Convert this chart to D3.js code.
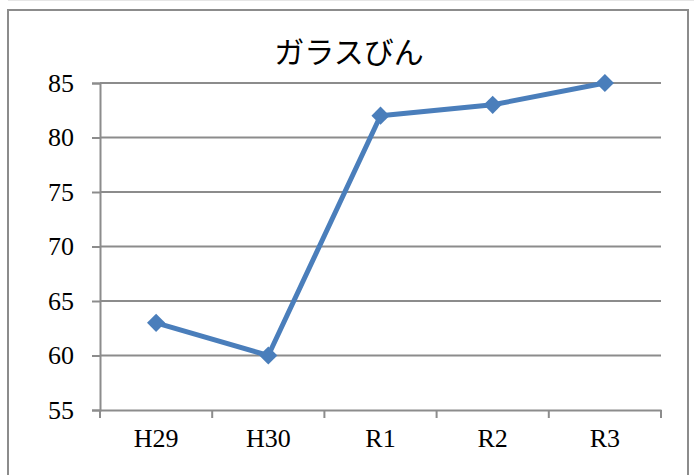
<!DOCTYPE html>
<html>
<head>
<meta charset="utf-8">
<script src="https://cdn.jsdelivr.net/npm/d3@7"></script>
<style>
  html, body { margin: 0; padding: 0; background: #fff; }
  svg { display: block; }
</style>
</head>
<body>
<svg id="chart" width="694" height="475"></svg>
<script>
// Yearly figures for glass bottles
const title = "ガラスびん";
const years = ["H29", "H30", "R1", "R2", "R3"];
const values = [63, 60, 82, 83, 85];
const yTicks = [55, 60, 65, 70, 75, 80, 85];

const svg = d3.select("#chart");
const W = 694, H = 475;
const plot = { left: 100, right: 661, top: 83, bottom: 410 };
const gray = "#8c8c8c";
const blue = "#4a7ebb";
const serif = "'Liberation Serif', 'Times New Roman', serif";

// faint outer line and chart frame
svg.append("line").attr("x1", 8).attr("x2", W).attr("y1", 0.5).attr("y2", 0.5)
  .attr("stroke", "#e6e6e6").attr("stroke-width", 1);
svg.append("rect").attr("x", 8).attr("y", 10).attr("width", 680).attr("height", 480)
  .attr("fill", "#fff").attr("stroke", gray).attr("stroke-width", 2);

svg.append("text").attr("x", 349).attr("y", 63).attr("text-anchor", "middle")
  .attr("font-family", "'Noto Sans CJK JP', sans-serif").attr("font-size", 30)
  .attr("fill", "#000").text(title);

const x = d3.scaleBand().domain(years).range([plot.left, plot.right]);
const y = d3.scaleLinear().domain([55, 85]).range([plot.bottom, plot.top]);

// horizontal gridlines
svg.append("g").selectAll("line").data(yTicks.slice(1)).join("line")
  .attr("x1", plot.left).attr("x2", plot.right)
  .attr("y1", d => y(d)).attr("y2", d => y(d))
  .attr("stroke", gray).attr("stroke-width", 2);

// y axis
const yAxis = svg.append("g").attr("transform", `translate(${plot.left},0)`)
  .call(d3.axisLeft(y).tickValues(yTicks).tickSize(8).tickPadding(18).tickFormat(d3.format("d")));
yAxis.select(".domain").attr("stroke", gray).attr("stroke-width", 2);
yAxis.selectAll(".tick line").attr("stroke", gray).attr("stroke-width", 2);
yAxis.selectAll("text").attr("font-family", serif).attr("font-size", 26)
  .attr("fill", "#000");

// x axis with ticks at band boundaries
const xAxis = svg.append("g").attr("transform", `translate(0,${plot.bottom})`)
  .call(d3.axisBottom(x).tickSize(0).tickPadding(19));
xAxis.select(".domain").attr("stroke", gray).attr("stroke-width", 2);
xAxis.selectAll("text").attr("font-family", serif).attr("font-size", 26)
  .attr("fill", "#000");
const bounds = years.map(d => x(d)).concat([x(years[years.length - 1]) + x.bandwidth()]);
svg.append("g").selectAll("line").data(bounds).join("line")
  .attr("x1", d => d).attr("x2", d => d)
  .attr("y1", plot.bottom).attr("y2", plot.bottom + 8)
  .attr("stroke", gray).attr("stroke-width", 2);

// series line
const cx = d => x(d) + x.bandwidth() / 2;
const line = d3.line().x((d, i) => cx(years[i])).y(d => y(d));
svg.append("path").datum(values).attr("d", line)
  .attr("fill", "none").attr("stroke", blue).attr("stroke-width", 5)
  .attr("stroke-linejoin", "round");

// diamond markers
const diamond = d3.symbol().type(d3.symbolSquare).size(165);
svg.append("g").selectAll("path").data(values).join("path")
  .attr("d", diamond)
  .attr("transform", (d, i) => `translate(${cx(years[i])},${y(d)}) rotate(45)`)
  .attr("fill", blue);
</script>
</body>
</html>
